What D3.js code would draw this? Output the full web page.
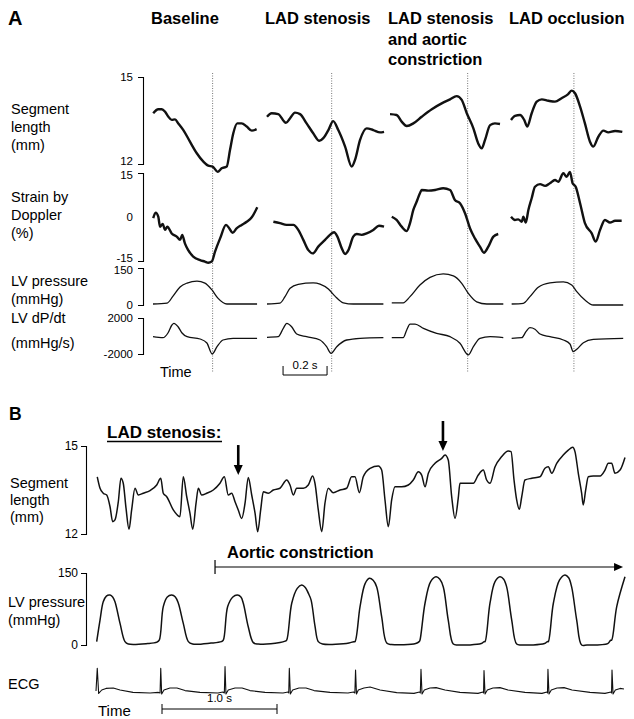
<!DOCTYPE html>
<html>
<head>
<meta charset="utf-8">
<script src="https://cdn.jsdelivr.net/npm/d3@7"></script>
<style>
  body { margin: 0; background: #fff; }
  svg text { font-family: "Liberation Sans", Arial, sans-serif; fill: #000; }
</style>
</head>
<body>
<div id="chart"></div>
<script>
// ------------ DATI PANNELLO A: [tempo (s) dall'inizio del battito, valore] ------------ //
const columnTitles = [["Baseline"], ["LAD stenosis"], ["LAD stenosis", "and aortic", "constriction"], ["LAD occlusion"]];

const baseSeg = [[0.001,13.75],[0.024,13.89],[0.040,13.89],[0.055,13.80],[0.070,13.63],[0.085,13.52],[0.100,13.54],[0.115,13.40],[0.138,13.17],[0.168,12.77],[0.199,12.37],[0.229,12.08],[0.251,11.94],[0.271,11.91],[0.294,11.73],[0.312,11.85],[0.335,11.91],[0.350,12.48],[0.365,13.06],[0.383,13.40],[0.403,13.40],[0.426,13.29],[0.449,13.15],[0.471,13.20]];
const baseStrain = [[0.001,-0.4],[0.012,1.5],[0.024,0.1],[0.032,-3.3],[0.044,-2.4],[0.055,-4.4],[0.065,-3.3],[0.085,-5.6],[0.108,-6.7],[0.123,-7.8],[0.133,-6.1],[0.145,-9.0],[0.160,-11.3],[0.183,-13.5],[0.214,-14.7],[0.236,-15.2],[0.251,-15.6],[0.267,-15.2],[0.282,-11.8],[0.305,-7.3],[0.332,-2.7],[0.347,-3.9],[0.362,-5.4],[0.380,-3.9],[0.403,-2.7],[0.426,-1.6],[0.449,-0.1],[0.474,3.3]];
const basePres = [[0,4],[0.064,8],[0.091,36],[0.123,73],[0.155,89],[0.2,97],[0.236,89],[0.268,61],[0.295,28],[0.336,4],[0.473,4]];
const baseDpdt = [[0,-78],[0.045,-190],[0.068,333],[0.086,1220],[0.095,1410],[0.114,1030],[0.132,333],[0.155,-78],[0.214,-333],[0.245,-780],[0.269,-2000],[0.291,-1190],[0.318,-444],[0.364,-255],[0.473,-255]];

const stenSeg = [[0,13.63],[0.021,13.75],[0.051,13.72],[0.086,13.42],[0.105,13.58],[0.127,13.77],[0.15,13.72],[0.18,13.40],[0.21,13.06],[0.238,12.80],[0.256,12.89],[0.279,13.17],[0.301,13.48],[0.324,13.17],[0.355,12.60],[0.385,11.91],[0.4,12.14],[0.423,12.83],[0.453,13.23],[0.483,13.17],[0.514,13.09],[0.532,13.11]];
const stenStrain = [[0.029,-1.6],[0.059,-2.1],[0.089,-2.7],[0.12,-2.7],[0.142,-4.4],[0.165,-7.8],[0.188,-11.3],[0.208,-12.4],[0.233,-10.1],[0.264,-7.8],[0.286,-6.1],[0.305,-5.2],[0.32,-6.7],[0.34,-10.7],[0.355,-12.6],[0.37,-11.3],[0.392,-6.7],[0.408,-5.8],[0.43,-6.1],[0.453,-5.6],[0.483,-4.4],[0.509,-3.0],[0.532,-3.3]];
const stenPres = [[0,4],[0.059,8],[0.082,34],[0.105,68],[0.142,84],[0.21,90],[0.241,85],[0.279,65],[0.309,36],[0.347,9],[0.392,4],[0.529,4]];
const stenDpdt = [[0,-144],[0.051,-78],[0.074,855],[0.09,1410],[0.112,1030],[0.135,222],[0.18,-78],[0.241,-444],[0.271,-1190],[0.291,-1920],[0.317,-1190],[0.362,-444],[0.423,-255],[0.529,-190]];

const acSeg = [[0,13.72],[0.03,13.69],[0.053,13.46],[0.076,13.31],[0.106,13.40],[0.144,13.63],[0.19,13.89],[0.235,14.09],[0.273,14.23],[0.303,14.34],[0.326,14.21],[0.349,13.75],[0.379,13.23],[0.401,12.71],[0.417,12.54],[0.432,12.83],[0.455,13.34],[0.477,13.40],[0.5,13.38]];
const acStrain = [[0.008,0.1],[0.03,-1.0],[0.053,-3.3],[0.076,-4.8],[0.091,-2.1],[0.106,2.4],[0.121,5.2],[0.136,8.1],[0.144,9.2],[0.174,9.0],[0.205,9.2],[0.242,9.8],[0.273,9.2],[0.295,5.8],[0.318,4.7],[0.341,1.3],[0.364,-3.9],[0.386,-7.3],[0.409,-10.1],[0.427,-12.2],[0.447,-10.1],[0.47,-6.7],[0.492,-5.8]];
const acPres = [[0.008,9],[0.06,9],[0.091,34],[0.136,81],[0.182,112],[0.242,126],[0.288,118],[0.326,88],[0.356,47],[0.394,13],[0.44,4],[0.515,4]];
const acDpdt = [[0.008,-190],[0.06,-190],[0.076,666],[0.091,1330],[0.114,1330],[0.152,855],[0.212,300],[0.273,-78],[0.318,-810],[0.356,-2100],[0.379,-1190],[0.409,-255],[0.455,-78],[0.515,-190]];

const occSeg = [[0,13.52],[0.018,13.66],[0.041,13.69],[0.06,13.52],[0.074,13.29],[0.094,13.75],[0.117,14.15],[0.14,14.23],[0.17,14.18],[0.2,14.15],[0.23,14.27],[0.26,14.41],[0.276,14.53],[0.291,14.44],[0.314,13.98],[0.336,13.40],[0.359,12.77],[0.374,12.60],[0.397,12.94],[0.42,13.15],[0.442,13.09],[0.473,13.14],[0.506,13.11]];
const occStrain = [[0,0.1],[0.018,-1.0],[0.033,-0.8],[0.049,-1.6],[0.056,0.1],[0.067,-1.9],[0.079,2.4],[0.094,6.4],[0.109,10.3],[0.132,11.2],[0.155,10.6],[0.177,11.5],[0.2,12.6],[0.215,12.0],[0.238,14.9],[0.253,13.7],[0.268,15.4],[0.28,11.5],[0.294,10.3],[0.314,4.7],[0.336,-2.1],[0.367,-5.6],[0.385,-8.4],[0.405,-4.4],[0.427,-1.0],[0.45,-1.9],[0.473,-1.3],[0.503,-1.3]];
const occPres = [[0.003,4],[0.056,7],[0.086,34],[0.124,72],[0.177,90],[0.238,94],[0.276,81],[0.299,54],[0.336,20],[0.374,0],[0.51,0]];
const occDpdt = [[0.003,-255],[0.049,-190],[0.068,477],[0.086,921],[0.109,744],[0.132,222],[0.177,-78],[0.238,-444],[0.268,-888],[0.283,-1740],[0.299,-1480],[0.329,-744],[0.374,-366],[0.51,-255]];

const endEjectionTimes = [0.271, 0.294, 0.353, 0.286]; // linee tratteggiate (s)
const scaleBarA = [0.073, 0.2]; // inizio (s, colonna 2) e durata

// ------------ DATI PANNELLO B ------------ //
const segB = [[0.011,13.95],[0.035,13.56],[0.063,13.39],[0.093,13.33],[0.122,12.93],[0.145,12.42],[0.165,12.48],[0.194,13.10],[0.217,13.90],[0.237,13.73],[0.261,12.88],[0.287,12.16],[0.31,12.82],[0.339,13.56],[0.368,13.33],[0.411,13.39],[0.47,13.48],[0.528,13.67],[0.563,13.90],[0.585,13.39],[0.615,13.27],[0.672,12.82],[0.73,12.59],[0.759,13.95],[0.789,13.27],[0.817,12.71],[0.841,12.16],[0.87,13.05],[0.89,13.56],[0.919,13.33],[0.963,13.39],[1.02,13.50],[1.078,13.73],[1.116,13.95],[1.15,13.33],[1.18,13.39],[1.209,13.10],[1.237,12.82],[1.267,12.53],[1.296,13.05],[1.324,13.93],[1.354,13.33],[1.383,12.71],[1.406,12.08],[1.432,12.82],[1.455,13.44],[1.498,13.39],[1.542,13.50],[1.6,13.56],[1.658,13.84],[1.687,13.67],[1.716,13.33],[1.745,13.56],[1.803,13.56],[1.846,13.67],[1.884,13.98],[1.904,13.73],[1.933,12.82],[1.963,12.08],[1.991,13.05],[2.02,13.56],[2.063,13.41],[2.122,13.50],[2.18,13.56],[2.223,13.95],[2.252,13.95],[2.29,13.41],[2.324,13.95],[2.383,14.24],[2.455,14.32],[2.484,14.18],[2.513,13.16],[2.542,12.25],[2.571,13.16],[2.6,13.61],[2.658,13.61],[2.716,13.67],[2.759,13.84],[2.803,14.12],[2.832,14.01],[2.861,13.61],[2.89,14.07],[2.948,14.41],[3.006,14.58],[3.035,14.69],[3.063,14.52],[3.093,13.27],[3.122,12.53],[3.15,13.22],[3.165,13.73],[3.223,13.73],[3.281,13.73],[3.324,14.01],[3.368,14.18],[3.397,13.84],[3.426,13.73],[3.47,14.29],[3.528,14.64],[3.585,14.83],[3.609,14.81],[3.635,13.84],[3.658,13.16],[3.681,12.84],[3.702,13.27],[3.73,13.84],[3.789,13.90],[3.861,13.95],[3.904,14.24],[3.933,14.29],[3.963,14.07],[4.006,14.41],[4.063,14.69],[4.107,14.86],[4.145,14.96],[4.165,14.81],[4.194,14.07],[4.223,13.39],[4.237,12.99],[4.258,13.50],[4.281,13.95],[4.324,13.98],[4.383,13.98],[4.426,14.18],[4.455,14.41],[4.484,14.41],[4.513,14.07],[4.557,14.18],[4.6,14.61]];

const presB = [[0.006,7],[0.035,52],[0.063,90],[0.09,102],[0.122,104],[0.145,100],[0.165,90],[0.209,45],[0.252,7],[0.281,2],[0.45,3],[0.53,6],
  [0.55,10],[0.585,80],[0.62,100],[0.658,104],[0.69,100],[0.716,87],[0.759,45],[0.803,7],[0.84,2],[1.0,4],[1.09,7],
  [1.107,10],[1.145,80],[1.19,100],[1.229,104],[1.26,100],[1.281,87],[1.324,38],[1.368,5],[1.41,2],[1.6,5],[1.645,8],
  [1.658,10],[1.702,87],[1.75,118],[1.789,125],[1.82,120],[1.846,108],[1.87,94],[1.904,40],[1.933,7],[1.97,2],[2.2,4],[2.24,7],
  [2.252,7],[2.296,80],[2.34,128],[2.377,139],[2.41,135],[2.441,121],[2.484,59],[2.528,4],[2.57,1],[2.78,3],[2.81,7],
  [2.817,10],[2.861,87],[2.91,132],[2.957,142],[2.99,137],[3.02,121],[3.063,52],[3.107,2],[3.15,0],[3.35,3],[3.375,7],
  [3.383,7],[3.426,87],[3.47,132],[3.513,142],[3.545,137],[3.571,121],[3.615,52],[3.658,2],[3.7,0],[3.9,3],[3.925,7],
  [3.933,7],[3.977,87],[4.03,135],[4.078,146],[4.11,140],[4.136,121],[4.18,52],[4.223,0],[4.27,0],[4.45,3],[4.475,10],
  [4.484,10],[4.528,80],[4.6,142]];

const ecgB = [[0,-0.05],[0.011,1.08],[0.023,-0.17],[0.05,0],[0.087,0.08],[0.15,0.1],[0.209,0],[0.322,-0.12],[0.47,-0.15],[0.542,-0.12],
  [0.557,-0.15],[0.563,1.08],[0.571,-0.2],[0.591,0],[0.643,0.1],[0.704,0.1],[0.774,-0.03],[0.904,-0.12],[1.061,-0.15],[1.104,-0.1],
  [1.116,-0.15],[1.122,1.17],[1.13,-0.2],[1.15,0],[1.209,0.1],[1.27,0.1],[1.339,-0.03],[1.47,-0.12],[1.626,-0.15],[1.67,-0.1],
  [1.676,-0.15],[1.681,1.08],[1.69,-0.2],[1.71,0],[1.765,0.1],[1.826,0.1],[1.896,-0.03],[2.035,-0.12],[2.191,-0.15],[2.239,-0.1],
  [2.251,-0.15],[2.257,1.0],[2.265,-0.2],[2.281,0],[2.33,0.1],[2.383,0.15],[2.47,0],[2.615,-0.13],[2.765,-0.17],[2.813,-0.1],
  [2.82,-0.15],[2.826,1.03],[2.835,-0.2],[2.855,0],[2.904,0.1],[2.957,0.12],[3.035,0],[3.165,-0.12],[3.322,-0.17],[3.365,-0.1],
  [3.37,-0.15],[3.374,0.97],[3.383,-0.2],[3.403,0],[3.452,0.1],[3.513,0.12],[3.583,0],[3.73,-0.12],[3.878,-0.17],[3.922,-0.1],
  [3.926,-0.15],[3.93,1.03],[3.939,-0.2],[3.959,0],[4.009,0.1],[4.07,0.12],[4.139,0],[4.296,-0.12],[4.426,-0.17],[4.478,-0.1],
  [4.483,-0.15],[4.487,1.0],[4.496,-0.2],[4.516,0],[4.557,0.08],[4.591,0.05]];

const arrowTimes = [1.237, 3.017];   // frecce sopra la traccia di lunghezza (s)
const arrowTips = [14.01, 14.83];    // punta della freccia (mm)
const aorticSpan = [1.035, 4.583];   // costrizione aortica (s)
const scaleBarB = [0.574, 1.0];

// ------------ SVG ------------ //
const width = 634, height = 719;
const svg = d3.select('#chart').append('svg')
  .attr('width', width)
  .attr('height', height);

function addText(txt, x, y, size, bold, anchor) {
  return svg.append('text').text(txt)
    .attr('x', x).attr('y', y)
    .style('font-size', size + 'px')
    .style('font-weight', bold ? 'bold' : 'normal')
    .attr('text-anchor', anchor || 'start');
}

// asse a "parentesi": solo tacche alle estremita, etichette anche in mezzo
function drawAxis(x, scale, values, pad, size, nudge) {
  const g = svg.append('g')
    .attr('transform', `translate(${x},0)`)
    .call(d3.axisLeft(scale).tickValues(values).tickSizeInner(0).tickSizeOuter(5)
      .tickPadding(pad).tickFormat(d => String(d)));
  g.attr('font-family', null).attr('font-size', null);
  g.selectAll('text').style('font-size', size + 'px');
  g.selectAll('.tick').filter(d => nudge && nudge[d] !== undefined)
    .select('text').attr('y', d => nudge[d]); //sposto un po' le etichette che si toccano
  g.select('.domain').attr('stroke', '#000').attr('stroke-width', 1.1);
}

function drawTrace(data, xs, ys, w, curve) {
  svg.append('path')
    .datum(data)
    .attr('d', d3.line().x(d => xs(d[0])).y(d => ys(d[1])).curve(curve || d3.curveMonotoneX))
    .attr('fill', 'none')
    .attr('stroke', '#111')
    .attr('stroke-width', w)
    .attr('stroke-linejoin', 'round');
}

// ------------ PANNELLO A ------------ //
const colLeft = [153, 267, 390, 511];
const pxPerSecA = 220;
const xA = colLeft.map(l => d3.scaleLinear().domain([0, 1]).range([l, l + pxPerSecA]));
const yA = {
  seg: d3.scaleLinear().domain([12, 15]).range([164, 77]),
  strain: d3.scaleLinear().domain([-15, 15]).range([261, 173]),
  pres: d3.scaleLinear().domain([0, 150]).range([305, 268]),
  dpdt: d3.scaleLinear().domain([-2000, 2000]).range([354, 318])
};
const colData = [
  {seg: baseSeg, strain: baseStrain, pres: basePres, dpdt: baseDpdt},
  {seg: stenSeg, strain: stenStrain, pres: stenPres, dpdt: stenDpdt},
  {seg: acSeg, strain: acStrain, pres: acPres, dpdt: acDpdt},
  {seg: occSeg, strain: occStrain, pres: occPres, dpdt: occDpdt}
];
const widthA = {seg: 2.4, strain: 2.4, pres: 1.3, dpdt: 1.3};

addText('A', 8, 25, 20, true);
columnTitles.forEach((lines, i) => {
  lines.forEach((l, j) => addText(l, colLeft[i] - 2, 24 + j * 20.5, 16.5, true));
});

// etichette a sinistra
const labelsA = [[['Segment', 114], ['length', 132], ['(mm)', 150]],
  [['Strain by', 202], ['Doppler', 220], ['(%)', 238]],
  [['LV pressure', 286], ['(mmHg)', 304]],
  [['LV dP/dt', 323], ['(mmHg/s)', 348]]];
labelsA.forEach(group => group.forEach(l => addText(l[0], 11, l[1], 14.5, false)));

drawAxis(143, yA.seg, [12, 15], 10, 11.5, {12: -3});
drawAxis(143, yA.strain, [-15, 0, 15], 10, 11.5, {15: 2, '-15': -3});
drawAxis(143, yA.pres, [0, 150], 10, 11.5, {150: 2});
drawAxis(143, yA.dpdt, [-2000, 2000], 10, 11.5);

// linee tratteggiate di fine eiezione
endEjectionTimes.forEach((t, i) => {
  svg.append('line')
    .attr('x1', xA[i](t)).attr('x2', xA[i](t))
    .attr('y1', 73).attr('y2', 372)
    .attr('stroke', '#666').attr('stroke-width', 0.9)
    .attr('stroke-dasharray', '1,1.5');
});

colData.forEach((c, i) => {
  ['seg', 'strain', 'pres', 'dpdt'].forEach(k => drawTrace(c[k], xA[i], yA[k], widthA[k]));
});

addText('Time', 160, 377, 14.5, false);
// barra 0.2 s
const sbA0 = xA[1](scaleBarA[0]), sbA1 = xA[1](scaleBarA[0] + scaleBarA[1]);
svg.append('path')
  .attr('d', `M${sbA0},366V375H${sbA1}V366`)
  .attr('fill', 'none').attr('stroke', '#000').attr('stroke-width', 1);
addText('0.2 s', (sbA0 + sbA1) / 2, 369, 11.5, false, 'middle');

// ------------ PANNELLO B ------------ //
const xB = d3.scaleLinear().domain([0, 1]).range([96, 96 + 115]);
const ySegB = d3.scaleLinear().domain([12, 15]).range([534, 446]);
const yPresB = d3.scaleLinear().domain([0, 150]).range([645, 573]);
const yEcgB = d3.scaleLinear().domain([0, 1]).range([690, 670]);

addText('B', 9, 420, 17.5, true);
addText('LAD stenosis:', 107, 438, 17, true);
svg.append('line').attr('x1', 107).attr('x2', 222).attr('y1', 441.5).attr('y2', 441.5)
  .attr('stroke', '#000').attr('stroke-width', 1.6);

[['Segment', 488], ['length', 505], ['(mm)', 522]].forEach(l => addText(l[0], 10, l[1], 14.5, false));
[['LV pressure', 607], ['(mmHg)', 625]].forEach(l => addText(l[0], 8, l[1], 14.5, false));
addText('ECG', 8, 689, 14.5, false);

drawAxis(86, ySegB, [12, 15], 8, 12);
drawAxis(86, yPresB, [0, 150], 8, 12);

drawTrace(segB, xB, ySegB, 1.5);
drawTrace(presB, xB, yPresB, 1.5, d3.curveCatmullRom.alpha(0.5));
drawTrace(ecgB, xB, yEcgB, 1.1, d3.curveLinear);

// frecce
arrowTimes.forEach((t, i) => {
  const x = xB(t), yTip = ySegB(arrowTips[i]);
  svg.append('line').attr('x1', x).attr('x2', x).attr('y1', yTip - 30).attr('y2', yTip - 8)
    .attr('stroke', '#000').attr('stroke-width', 2.6);
  svg.append('path').attr('d', `M${x - 4.5},${yTip - 10}L${x + 4.5},${yTip - 10}L${x},${yTip}Z`).attr('fill', '#000');
});

// costrizione aortica
addText('Aortic constriction', 227, 558, 16.5, true);
const ac0 = xB(aorticSpan[0]), ac1 = xB(aorticSpan[1]);
svg.append('line').attr('x1', ac0).attr('x2', ac1 - 6).attr('y1', 567).attr('y2', 567)
  .attr('stroke', '#000').attr('stroke-width', 1.2);
svg.append('line').attr('x1', ac0).attr('x2', ac0).attr('y1', 560).attr('y2', 574)
  .attr('stroke', '#000').attr('stroke-width', 1.2);
svg.append('path').attr('d', `M${ac1 - 9},${563}L${ac1},${567}L${ac1 - 9},${571}Z`).attr('fill', '#000');

addText('Time', 98, 716, 15, false);
const sbB0 = xB(scaleBarB[0]), sbB1 = xB(scaleBarB[0] + scaleBarB[1]);
svg.append('line').attr('x1', sbB0).attr('x2', sbB1).attr('y1', 709).attr('y2', 709)
  .attr('stroke', '#000').attr('stroke-width', 1);
[sbB0, sbB1].forEach(x => svg.append('line').attr('x1', x).attr('x2', x).attr('y1', 704).attr('y2', 714)
  .attr('stroke', '#000').attr('stroke-width', 1));
addText('1.0 s', (sbB0 + sbB1) / 2, 702, 11.5, false, 'middle');
</script>
</body>
</html>
